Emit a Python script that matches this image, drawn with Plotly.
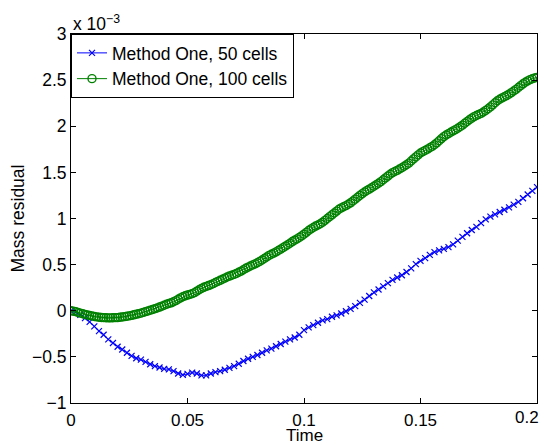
import plotly.graph_objects as go

# values; mass residual in units of 1e-3 (see "x 10^-3" label)
time_50 = [round(i * 0.002, 4) for i in range(101)]
residual_50 = [
    0, -0.015, -0.045, -0.08, -0.12, -0.17, -0.22, -0.26, -0.31, -0.35,
    -0.39, -0.42, -0.455, -0.49, -0.515, -0.53, -0.555, -0.58, -0.6, -0.615,
    -0.63, -0.635, -0.655, -0.68, -0.695, -0.685, -0.67, -0.68, -0.70, -0.70,
    -0.68, -0.665, -0.655, -0.64, -0.62, -0.60, -0.575, -0.545, -0.52, -0.50,
    -0.48, -0.455, -0.43, -0.41, -0.385, -0.36, -0.335, -0.31, -0.29, -0.26,
    -0.21, -0.18, -0.155, -0.13, -0.105, -0.09, -0.065, -0.05, -0.03, -0.005,
    0.02, 0.05, 0.085, 0.12, 0.16, 0.20, 0.23, 0.265, 0.30, 0.335,
    0.36, 0.385, 0.42, 0.46, 0.505, 0.54, 0.57, 0.605, 0.635, 0.655,
    0.67, 0.69, 0.72, 0.76, 0.80, 0.84, 0.875, 0.91, 0.95, 0.99,
    1.02, 1.045, 1.07, 1.095, 1.12, 1.15, 1.18, 1.22, 1.26, 1.30,
    1.34,
]

time_100 = [round(i * 0.001, 4) for i in range(201)]
residual_100 = [
    0, -0.004, -0.01, -0.018, -0.026, -0.033, -0.04, -0.046, -0.052, -0.057,
    -0.062, -0.066, -0.07, -0.073, -0.075, -0.076, -0.077, -0.077, -0.076, -0.075,
    -0.074, -0.071, -0.068, -0.064, -0.06, -0.056, -0.05, -0.044, -0.038, -0.032,
    -0.026, -0.018, -0.01, -0.002, 0.006, 0.014, 0.022, 0.03, 0.04, 0.05,
    0.06, 0.07, 0.078, 0.086, 0.097, 0.11, 0.125, 0.14, 0.152, 0.162,
    0.17, 0.178, 0.186, 0.197, 0.212, 0.228, 0.242, 0.254, 0.264, 0.273,
    0.282, 0.294, 0.306, 0.318, 0.33, 0.342, 0.354, 0.366, 0.376, 0.385,
    0.394, 0.405, 0.417, 0.43, 0.445, 0.46, 0.473, 0.485, 0.497, 0.508,
    0.52, 0.535, 0.55, 0.566, 0.583, 0.6, 0.613, 0.625, 0.638, 0.653,
    0.668, 0.684, 0.7, 0.716, 0.732, 0.75, 0.765, 0.779, 0.795, 0.812,
    0.83, 0.85, 0.87, 0.887, 0.903, 0.918, 0.93, 0.943, 0.96, 0.98,
    1.0, 1.02, 1.04, 1.06, 1.08, 1.1, 1.115, 1.127, 1.14, 1.155,
    1.17, 1.19, 1.21, 1.23, 1.25, 1.27, 1.287, 1.303, 1.318, 1.333,
    1.35, 1.366, 1.382, 1.4, 1.42, 1.44, 1.46, 1.48, 1.497, 1.51,
    1.522, 1.536, 1.55, 1.566, 1.583, 1.6, 1.623, 1.646, 1.668, 1.69,
    1.71, 1.725, 1.738, 1.752, 1.767, 1.782, 1.8, 1.82, 1.843, 1.866,
    1.888, 1.905, 1.92, 1.935, 1.95, 1.963, 1.978, 1.994, 2.012, 2.032,
    2.052, 2.07, 2.088, 2.104, 2.117, 2.128, 2.14, 2.155, 2.172, 2.19,
    2.21, 2.232, 2.255, 2.276, 2.293, 2.308, 2.32, 2.333, 2.348, 2.365,
    2.382, 2.4, 2.42, 2.44, 2.46, 2.477, 2.492, 2.505, 2.515, 2.523,
    2.53,
]

x_ticks = [0, 0.05, 0.1, 0.15, 0.2]
# last label is drawn as a right-aligned annotation so it isn't clipped at the page edge
x_tick_text = ["0", "0.05", "0.1", "0.15", ""]
x_last_label = "0.2"
y_ticks = [-1, -0.5, 0, 0.5, 1, 1.5, 2, 2.5, 3]
y_tick_text = ["\u22121", "\u22120.5", "0", "0.5", "1", "1.5", "2", "2.5", "3"]

font = "Liberation Sans, Arial, Helvetica, sans-serif"
fs = 17.5

fig = go.Figure()
fig.add_trace(go.Scatter(
    x=time_50, y=residual_50, mode="lines+markers",
    name="Method One, 50 cells",
    line=dict(color="rgb(0,0,255)", width=1),
    marker=dict(symbol="x-thin-open", size=6, color="rgb(0,0,255)",
                line=dict(width=1.2, color="rgb(0,0,255)")),
))
fig.add_trace(go.Scatter(
    x=time_100, y=residual_100, mode="lines+markers",
    name="Method One, 100 cells",
    line=dict(color="rgb(0,128,0)", width=1),
    marker=dict(symbol="circle-open", size=8, color="rgb(0,128,0)",
                line=dict(width=1.4, color="rgb(0,128,0)")),
))

axis_common = dict(
    showgrid=False, zeroline=False, showline=True, linecolor="black",
    linewidth=1, mirror="ticks", ticks="inside", ticklen=5,
    tickcolor="black", automargin=False, ticklabeloverflow="allow",
)

fig.update_xaxes(
    range=[0, 0.2], tickvals=x_ticks, ticktext=x_tick_text,
    tickfont=dict(size=17, color="black"), ticklabelstandoff=2,
    **axis_common,
)
fig.update_yaxes(
    range=[-1, 3], tickvals=y_ticks, ticktext=y_tick_text,
    tickfont=dict(size=fs, color="black"),
    title=dict(text="Mass residual", font=dict(size=fs, color="black"), standoff=10),
    **axis_common,
)

fig.add_annotation(
    text=x_last_label, xref="x", yref="paper", x=x_ticks[-1], y=0,
    xanchor="right", yanchor="top", xshift=4, yshift=-3, showarrow=False,
    font=dict(size=17, color="black"),
)
# x-axis title placed by hand so it sits tight under the tick labels
fig.add_annotation(
    text="Time", xref="paper", yref="paper", x=0.5, y=0,
    xanchor="center", yanchor="top", yshift=-21, showarrow=False,
    font=dict(size=17, color="black"),
)
fig.add_annotation(
    text="x 10<sup>\u22123</sup>", xref="paper", yref="paper",
    x=0, y=1, xanchor="left", yanchor="bottom", showarrow=False,
    font=dict(size=fs, color="black"), xshift=0, yshift=-2,
)

# the page body adds an 8px margin, so the figure is 8px smaller each way
fig.update_layout(
    width=541, height=437,
    margin=dict(l=63, r=12, t=26, b=42),
    paper_bgcolor="white", plot_bgcolor="white",
    font=dict(family=font, color="black"),
    showlegend=True,
    legend=dict(
        x=0, y=1, xanchor="left", yanchor="top",
        bgcolor="white", bordercolor="black", borderwidth=1,
        font=dict(size=fs, color="black"),
        tracegroupgap=0, itemwidth=30,
    ),
)

fig.write_html("out.html")
